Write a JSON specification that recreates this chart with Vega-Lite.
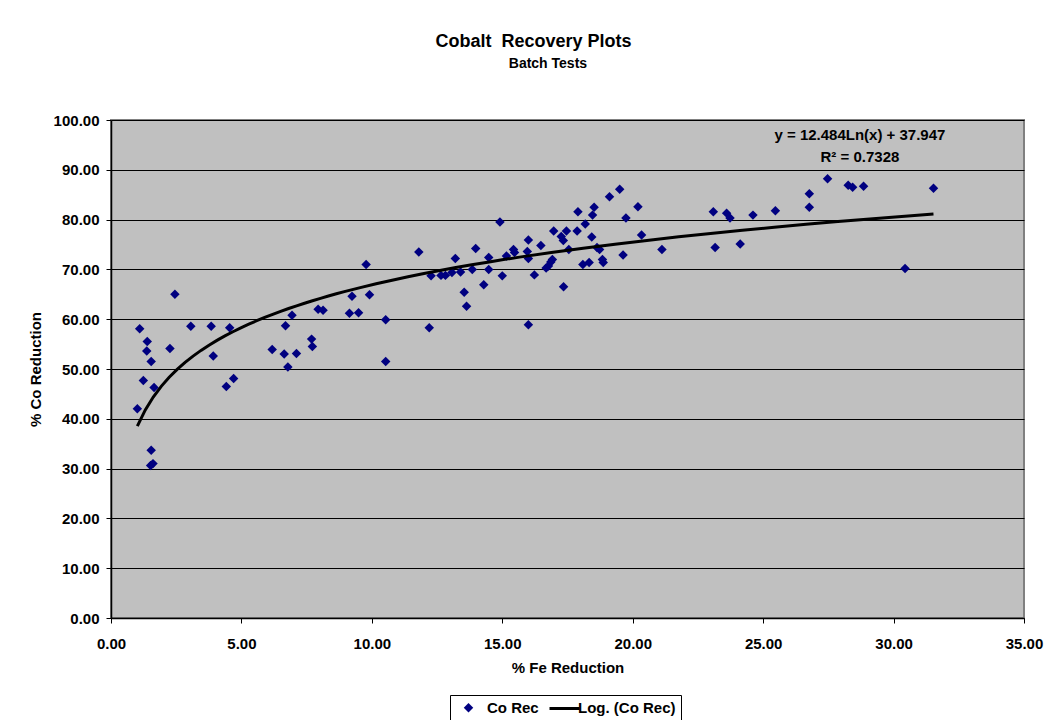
{
  "$schema": "https://vega.github.io/schema/vega-lite/v6.json",
  "width": 913,
  "height": 498,
  "autosize": {"type": "none"},
  "padding": {"left": 111, "top": 120, "right": 24, "bottom": 102},
  "background": "white",
  "title": {
    "text": "Cobalt\u00a0\u00a0Recovery Plots",
    "font": "Liberation Sans",
    "fontSize": 18,
    "fontWeight": "bold",
    "color": "black",
    "anchor": "middle",
    "frame": "group",
    "dx": -34,
    "offset": 6
  },
  "data": {
    "values": [
      {"fe": 1.01, "co": 42.0}, {"fe": 1.10, "co": 58.1}, {"fe": 1.24, "co": 47.7}, {"fe": 1.37, "co": 53.6},
      {"fe": 1.39, "co": 55.5}, {"fe": 1.52, "co": 30.6}, {"fe": 1.54, "co": 33.7}, {"fe": 1.54, "co": 51.5},
      {"fe": 1.61, "co": 31.0}, {"fe": 1.65, "co": 46.3}, {"fe": 2.26, "co": 54.1}, {"fe": 2.45, "co": 65.0},
      {"fe": 3.06, "co": 58.6}, {"fe": 3.84, "co": 58.6}, {"fe": 3.92, "co": 52.6}, {"fe": 4.42, "co": 46.5},
      {"fe": 4.55, "co": 58.3}, {"fe": 4.70, "co": 48.1}, {"fe": 6.18, "co": 53.9}, {"fe": 6.64, "co": 53.0},
      {"fe": 6.69, "co": 58.7}, {"fe": 6.78, "co": 50.4}, {"fe": 6.94, "co": 60.8}, {"fe": 7.11, "co": 53.1},
      {"fe": 7.69, "co": 56.0}, {"fe": 7.72, "co": 54.5}, {"fe": 7.94, "co": 62.0}, {"fe": 8.13, "co": 61.8},
      {"fe": 9.14, "co": 61.2}, {"fe": 9.24, "co": 64.6}, {"fe": 9.49, "co": 61.3}, {"fe": 9.78, "co": 71.0},
      {"fe": 9.91, "co": 64.9}, {"fe": 10.53, "co": 59.9}, {"fe": 10.53, "co": 51.5}, {"fe": 11.80, "co": 73.5},
      {"fe": 12.20, "co": 58.3}, {"fe": 12.27, "co": 68.7}, {"fe": 12.65, "co": 68.8}, {"fe": 12.82, "co": 68.8},
      {"fe": 13.07, "co": 69.4}, {"fe": 13.20, "co": 72.2}, {"fe": 13.40, "co": 69.5}, {"fe": 13.54, "co": 65.4},
      {"fe": 13.63, "co": 62.6}, {"fe": 13.85, "co": 70.0}, {"fe": 13.98, "co": 74.2}, {"fe": 14.29, "co": 66.9},
      {"fe": 14.48, "co": 72.4}, {"fe": 14.48, "co": 70.0}, {"fe": 14.91, "co": 79.5}, {"fe": 15.00, "co": 68.7},
      {"fe": 15.16, "co": 72.7}, {"fe": 15.43, "co": 74.0}, {"fe": 15.47, "co": 73.4}, {"fe": 15.96, "co": 73.6},
      {"fe": 16.00, "co": 75.9}, {"fe": 16.00, "co": 72.2}, {"fe": 16.00, "co": 58.9}, {"fe": 16.23, "co": 68.9},
      {"fe": 16.48, "co": 74.8}, {"fe": 16.68, "co": 70.3}, {"fe": 16.77, "co": 70.7}, {"fe": 16.86, "co": 71.5},
      {"fe": 16.92, "co": 72.0}, {"fe": 16.97, "co": 77.7}, {"fe": 17.26, "co": 76.6}, {"fe": 17.34, "co": 75.8},
      {"fe": 17.35, "co": 66.5}, {"fe": 17.46, "co": 77.7}, {"fe": 17.55, "co": 74.0}, {"fe": 17.87, "co": 77.7},
      {"fe": 17.90, "co": 81.6}, {"fe": 18.09, "co": 71.0}, {"fe": 18.18, "co": 79.1}, {"fe": 18.33, "co": 71.4},
      {"fe": 18.43, "co": 76.5}, {"fe": 18.46, "co": 80.9}, {"fe": 18.52, "co": 82.5}, {"fe": 18.63, "co": 74.4},
      {"fe": 18.73, "co": 74.0}, {"fe": 18.84, "co": 72.0}, {"fe": 18.87, "co": 71.4}, {"fe": 19.11, "co": 84.6},
      {"fe": 19.50, "co": 86.1}, {"fe": 19.63, "co": 72.9}, {"fe": 19.74, "co": 80.3}, {"fe": 20.20, "co": 82.6},
      {"fe": 20.34, "co": 76.9}, {"fe": 21.12, "co": 74.0}, {"fe": 23.09, "co": 81.6}, {"fe": 23.16, "co": 74.4},
      {"fe": 23.60, "co": 81.3}, {"fe": 23.73, "co": 80.3}, {"fe": 24.12, "co": 75.1}, {"fe": 24.61, "co": 80.9},
      {"fe": 25.47, "co": 81.8}, {"fe": 26.77, "co": 85.2}, {"fe": 26.77, "co": 82.5}, {"fe": 27.47, "co": 88.2},
      {"fe": 28.26, "co": 86.9}, {"fe": 28.43, "co": 86.5}, {"fe": 28.85, "co": 86.7}, {"fe": 30.44, "co": 70.2},
      {"fe": 31.53, "co": 86.3}
    ]
  },
  "layer": [
    {
      "mark": {"type": "point", "shape": "diamond", "filled": true, "size": 90, "opacity": 1},
      "encoding": {
        "x": {
          "field": "fe", "type": "quantitative",
          "scale": {"domain": [0, 35], "nice": false, "zero": false},
          "axis": {
            "title": "% Fe Reduction",
            "values": [0, 5, 10, 15, 20, 25, 30, 35],
            "format": ".2f",
            "grid": false,
            "labelPadding": 13,
            "titlePadding": 9,
            "labelFlush": false
          }
        },
        "y": {
          "field": "co", "type": "quantitative",
          "scale": {"domain": [0, 100], "nice": false, "zero": false},
          "axis": {
            "title": "% Co Reduction",
            "values": [0, 10, 20, 30, 40, 50, 60, 70, 80, 90, 100],
            "format": ".2f",
            "grid": true,
            "labelPadding": 7,
            "titlePadding": 10
          }
        },
        "fill": {
          "datum": "Co Rec", "type": "nominal",
          "scale": {"domain": ["Co Rec", "Log. (Co Rec)"], "range": ["#000080", "transparent"]},
          "legend": {
            "orient": "none",
            "legendX": 339,
            "legendY": 575,
            "direction": "horizontal",
            "title": null,
            "strokeColor": "black",
            "padding": 5,
            "symbolType": "diamond",
            "symbolSize": 90,
            "symbolOffset": 6,
            "labelOffset": 11,
            "columnPadding": 7,
            "labelLimit": 400,
            "labelFont": "Liberation Sans",
            "labelFontSize": 15,
            "labelFontWeight": "bold",
            "labelColor": "black"
          }
        }
      }
    },
    {
      "transform": [{"regression": "co", "on": "fe", "method": "log"}],
      "mark": {"type": "line", "strokeWidth": 3},
      "encoding": {
        "x": {"field": "fe", "type": "quantitative"},
        "y": {"field": "co", "type": "quantitative"},
        "stroke": {
          "datum": "Log. (Co Rec)", "type": "nominal",
          "scale": {"domain": ["Log. (Co Rec)"], "range": ["black"]},
          "legend": {
            "orient": "none",
            "legendX": 437,
            "legendY": 572,
            "direction": "horizontal",
            "title": null,
            "padding": 0,
            "zindex": 1,
            "symbolType": "stroke",
            "symbolSize": 900,
            "symbolStrokeWidth": 3,
            "labelExpr": "''",
            "labelOffset": 0
          }
        }
      }
    },
    {
      "data": {"values": [{}]},
      "mark": {
        "type": "text",
        "font": "Liberation Sans",
        "fontSize": 15,
        "fontWeight": "bold",
        "color": "black",
        "align": "center",
        "baseline": "middle",
        "lineHeight": 22
      },
      "encoding": {
        "x": {"datum": 28.71, "type": "quantitative"},
        "y": {"datum": 97.0, "type": "quantitative"},
        "text": {"value": ["y = 12.484Ln(x) + 37.947", "R² = 0.7328"]}
      }
    },
    {
      "data": {"values": [{}]},
      "mark": {
        "type": "text",
        "font": "Liberation Sans",
        "fontSize": 14,
        "fontWeight": "bold",
        "color": "black",
        "align": "center",
        "baseline": "middle",
        "clip": false
      },
      "encoding": {
        "x": {"datum": 16.75, "type": "quantitative"},
        "y": {"datum": 111.2, "type": "quantitative"},
        "text": {"value": "Batch Tests"}
      }
    }
  ],
  "config": {
    "view": {"fill": "#C0C0C0", "stroke": "#808080", "strokeWidth": 2},
    "axis": {
      "labelFont": "Liberation Sans",
      "labelFontSize": 15,
      "labelFontWeight": "bold",
      "labelColor": "black",
      "titleFont": "Liberation Sans",
      "titleFontSize": 15,
      "titleFontWeight": "bold",
      "titleColor": "black",
      "domainColor": "black",
      "domainWidth": 1.5,
      "tickColor": "black",
      "tickSize": 5,
      "gridColor": "black",
      "gridOpacity": 1,
      "gridWidth": 1
    }
  }
}
